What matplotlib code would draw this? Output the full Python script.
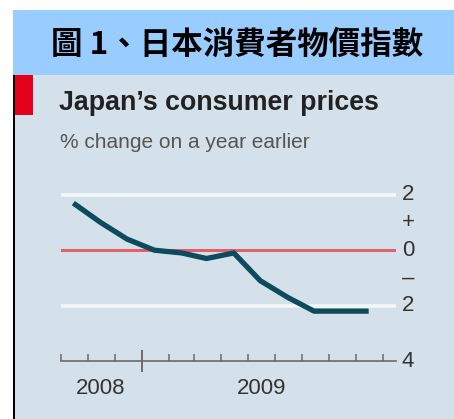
import matplotlib

matplotlib.use("Agg")
import matplotlib.dates as mdates
import matplotlib.pyplot as plt
import pandas as pd
from matplotlib.patches import Rectangle
from matplotlib.transforms import blended_transform_factory

W, H = 454, 419

header = "圖 1、日本消費者物價指數"
title = "Japan\u2019s consumer prices"
subtitle = "% change on a year earlier"

months = ["2008-10", "2008-11", "2008-12", "2009-01", "2009-02", "2009-03",
          "2009-04", "2009-05", "2009-06", "2009-07", "2009-08", "2009-09"]
cpi = [1.7, 1.0, 0.4, 0.0, -0.1, -0.3, -0.1, -1.1, -1.7, -2.2, -2.2, -2.2]

y_ticks = [2, 1, 0, -1, -2, -4]
y_labels = ["2", "+", "0", "\u2013", "2", "4"]
year_labels = ["2008", "2009"]
year_pos = ["2008-11-15", "2009-05-16"]

PANEL = "#d5e1ea"
BLUE = "#99ccff"
RED = "#e3001b"
LINE = "#0c4a5c"
SANS = ["Liberation Sans", "DejaVu Sans"]


def fx(px):
    return px / W


def fy(py):
    return 1 - py / H


fig = plt.figure(figsize=(W / 100, H / 100), dpi=100)
fig.patch.set_facecolor("white")


def box(x0, y0, w, h, color):
    # pixel box (top-left origin) behind everything else
    fig.patches.append(Rectangle((fx(x0), fy(y0 + h)), w / W, h / H, transform=fig.transFigure,
                                 facecolor=color, edgecolor="none", zorder=-5))


box(13, 10, W - 13, 65, BLUE)
box(13, 75, W - 13, H - 75, PANEL)
box(13, 75, 2, H - 75, "black")
box(15, 75, 18, 40, RED)

fig.text(fx(237), fy(45), header, ha="center", va="center", fontsize=22.7,
         fontweight="bold", family=["Noto Sans CJK TC", "DejaVu Sans"], color="black")
fig.text(fx(59), fy(110), title, ha="left", va="baseline", fontsize=19.3,
         fontweight="bold", family=SANS, color="#222222")
fig.text(fx(60), fy(148), subtitle, ha="left", va="baseline", fontsize=15,
         family=SANS, color="#555555")

# plot area: y=-4 at 361px, 27.7px per unit
ymin, ymax = -4, 2.6
bottom_px = 361
top_px = bottom_px - (ymax - ymin) * 27.7
ax = fig.add_axes([fx(61), fy(bottom_px), fx(396 - 61), (bottom_px - top_px) / H])
ax.set_facecolor("none")

x = pd.to_datetime(months) + pd.Timedelta(days=14)
ax.set_xlim(pd.Timestamp("2008-10-01"), pd.Timestamp("2009-10-16"))
ax.set_ylim(ymin, ymax)

ax.axhline(2, color="#f4f7f9", lw=2.6, zorder=1)
ax.axhline(-2, color="#f4f7f9", lw=2.6, zorder=1)
ax.axhline(0, color="#e0606c", lw=2.2, zorder=2)
ax.plot(x, cpi, color=LINE, lw=3.8, solid_capstyle="butt", solid_joinstyle="round",
        zorder=3, clip_on=False)

for s in ["top", "left", "right"]:
    ax.spines[s].set_visible(False)
ax.spines["bottom"].set_color("#6a6a6a")
ax.spines["bottom"].set_linewidth(1.2)
ax.set_yticks([])
ax.xaxis.set_major_locator(mdates.YearLocator())
ax.xaxis.set_minor_locator(mdates.MonthLocator())
ax.tick_params(axis="x", which="minor", direction="in", length=5, width=1.1, color="#6a6a6a")
ax.tick_params(axis="x", which="major", direction="inout", length=16, width=1.4, color="#6a6a6a",
               labelbottom=False)

trans = blended_transform_factory(ax.transAxes, ax.transData)
for v, lab in zip(y_ticks, y_labels):
    ax.text(1.036, v, lab, transform=trans, ha="center", va="center", fontsize=16,
            family=SANS, color="#333333", clip_on=False)

for pos, lab in zip(year_pos, year_labels):
    ax.text(pd.Timestamp(pos), -5.0, lab, ha="center", va="center", fontsize=16,
            family=SANS, color="#333333", clip_on=False)

fig.savefig("out.png", dpi=100)
